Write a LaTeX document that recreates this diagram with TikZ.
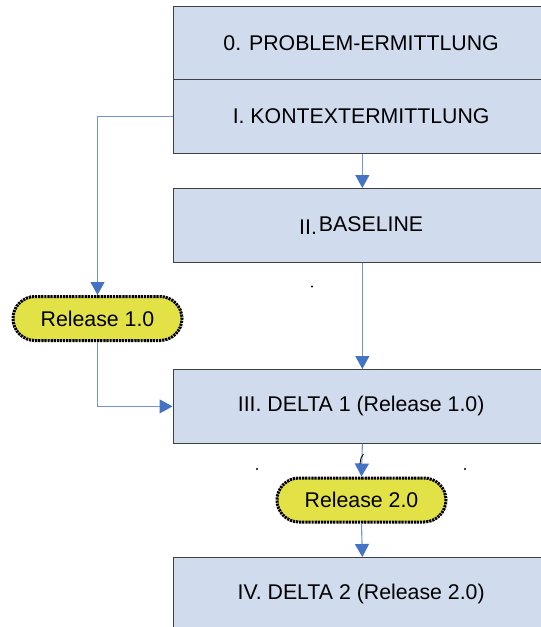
\documentclass[tikz,border=0pt]{standalone}
\usepackage{fontspec}
\setmainfont{Liberation Sans}
\usetikzlibrary{arrows.meta,shapes.misc}
\definecolor{boxfill}{RGB}{208,220,237}
\definecolor{boxline}{RGB}{64,64,64}
\definecolor{flowblue}{RGB}{68,114,196}
\definecolor{linkblue}{RGB}{112,150,214}
\definecolor{relfill}{RGB}{226,225,70}

\begin{document}
\begin{tikzpicture}[x=1pt,y=-1pt,
  phase/.style={draw=boxline, fill=boxfill, line width=1.3pt,
    minimum width=376pt, minimum height=73.5pt, inner sep=0pt,
    anchor=north west, font=\fontsize{21.3}{25}\selectfont},
  release/.style={rounded rectangle, draw=black, fill=relfill,
    line width=3pt, dash pattern=on 2.2pt off 0.9pt,
    minimum width=169pt, minimum height=44pt, inner sep=0pt,
    font=\fontsize{21.3}{25}\selectfont},
  link/.style={draw=linkblue, line width=1.1pt,
    -{Triangle[width=14pt,length=13pt,color=flowblue]}}]
  \useasboundingbox (0,0) rectangle (541,627);
  \clip (0,0) rectangle (541,627);

  % process phases
  \node[phase] (b0) at (172.5,5.5) {0. PROBLEM-ERMITTLUNG};
  \node[phase] (b1) at (172.5,79) {I. KONTEXTERMITTLUNG};
  \node[phase] (b2) at (172.5,188) {II.\hspace{2pt}\raisebox{3.5pt}{BASELINE}};
  \node[phase] (b3) at (172.5,369) {III. DELTA 1 (Release 1.0)};
  \node[phase] (b4) at (172.5,557) {IV. DELTA 2 (Release 2.0)};

  % releases
  \node[release] (r1) at (97.5,318.5) {Release 1.0};
  \node[release] (r2) at (361.5,500) {Release 2.0};

  % main flow
  \draw[link] ([xshift=1.2pt]b1.south) -- ([xshift=1.2pt]b2.north);
  \draw[link] ([xshift=1.2pt]b2.south) -- ([xshift=1.2pt]b3.north);
  \draw[link] ([xshift=1.2pt]b3.south) -- (r2.north);
  \draw[link] (r2.south) -- ([xshift=1.2pt]b4.north);

  % side path through release 1.0
  \draw[link] (b1.west) -| (r1.north);
  \draw[link] (r1.south) |- (b3.west);

  % small marks
  \fill (312,286.5) circle (1.1pt);
  \fill (257,469) circle (1.1pt);
  \fill (465,469) circle (1.1pt);
  \draw[line width=0.8pt] (363.5,454) .. controls (361,457) .. (360,464);
\end{tikzpicture}
\end{document}
